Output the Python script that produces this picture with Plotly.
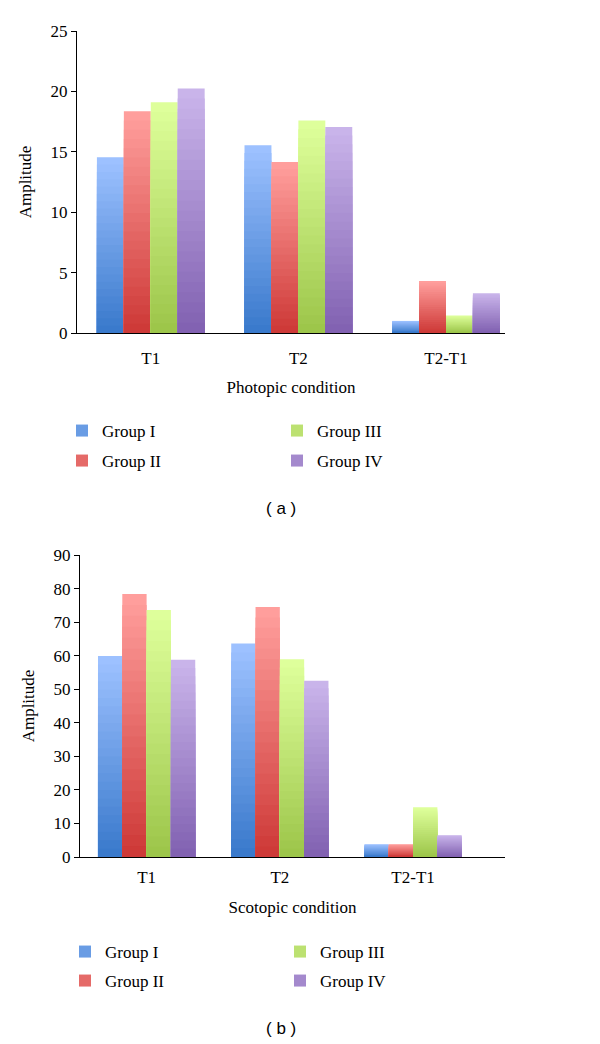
import plotly.graph_objects as go

categories = ["T1", "T2", "T2-T1"]
groups = ["Group I", "Group II", "Group III", "Group IV"]

photopic_group1 = [14.55, 15.55, 1.0]
photopic_group2 = [18.35, 14.15, 4.3]
photopic_group3 = [19.1, 17.6, 1.45]
photopic_group4 = [20.25, 17.05, 3.3]

scotopic_group1 = [59.9, 63.6, 3.8]
scotopic_group2 = [78.4, 74.5, 3.8]
scotopic_group3 = [73.6, 58.9, 14.8]
scotopic_group4 = [58.8, 52.5, 6.5]

photopic = [photopic_group1, photopic_group2, photopic_group3, photopic_group4]
scotopic = [scotopic_group1, scotopic_group2, scotopic_group3, scotopic_group4]

# gradient colours (top -> bottom of each bar)
top_colors = [(157, 193, 255), (255, 158, 156), (222, 255, 155), (201, 180, 234)]
bottom_colors = [(58, 122, 204), (206, 58, 56), (157, 198, 74), (130, 98, 178)]
legend_rows = [0, 1, 0, 1]  # Group I & III on first row, II & IV on second

SERIF = "Liberation Serif, Times New Roman, serif"
N_STEPS = 24
OFF = 8  # page body margin


def mix(c1, c2, t):
    return "rgb(%d,%d,%d)" % tuple(round(a + (b - a) * t) for a, b in zip(c1, c2))


fig = go.Figure()


def add_panel(values_list, xa, ya, legend_names):
    for i, g in enumerate(groups):
        vals = values_list[i]
        for k in range(N_STEPS):
            frac = (N_STEPS - k) / N_STEPS
            t = k / (N_STEPS - 1)
            show = (k == N_STEPS // 2)
            fig.add_trace(go.Bar(
                x=categories, y=[v * frac for v in vals], name=g,
                marker=dict(color=mix(top_colors[i], bottom_colors[i], t), line=dict(width=0)),
                xaxis=xa, yaxis=ya, offsetgroup=str(i),
                showlegend=show, legend=legend_names[legend_rows[i]],
                hoverinfo="skip" if not show else None,
            ))


add_panel(photopic, "x", "y", ["legend", "legend2"])
add_panel(scotopic, "x2", "y2", ["legend3", "legend4"])

axis_common = dict(showline=True, linecolor="black", linewidth=1, showgrid=False, zeroline=False,
                   tickfont=dict(family=SERIF, size=17, color="black"))
title_font = dict(family=SERIF, size=17, color="black")

W, H = 600, 1044


def px_x(p):
    return (p - OFF) / W


def px_y(p):
    return 1 - (p - OFF) / H


def leg(xpx, ypx):
    return dict(orientation="h", x=xpx / W, y=1 - ypx / H, xanchor="left", yanchor="middle",
                entrywidth=170, entrywidthmode="pixels", traceorder="normal",
                font=dict(family=SERIF, size=17, color="black"), bgcolor="rgba(0,0,0,0)")


fig.update_layout(
    width=W, height=H,
    margin=dict(l=0, r=0, t=0, b=0, autoexpand=False),
    paper_bgcolor="white", plot_bgcolor="white",
    barmode="group", bargap=0.27, bargroupgap=0,
    showlegend=True,
    xaxis=dict(domain=[px_x(77), px_x(505)], anchor="y", range=[-0.5, 2.4], ticks="",
               ticklabelstandoff=10,
               title=dict(text="Photopic condition", font=title_font, standoff=13),
               **axis_common),
    yaxis=dict(domain=[px_y(333), px_y(31)], anchor="x", range=[0, 25], dtick=5, ticks="outside",
               ticklen=5, tickcolor="black",
               title=dict(text="Amplitude", font=title_font, standoff=14),
               **axis_common),
    xaxis2=dict(domain=[px_x(80), px_x(505)], anchor="y2", range=[-0.5, 2.69], ticks="",
                ticklabelstandoff=5,
                title=dict(text="Scotopic condition", font=title_font, standoff=14),
                **axis_common),
    yaxis2=dict(domain=[px_y(857), px_y(555)], anchor="x2", range=[0, 90], dtick=10, ticks="outside",
                ticklen=5, tickcolor="black",
                title=dict(text="Amplitude", font=title_font, standoff=14),
                **axis_common),
    legend=leg(54, 423),
    legend2=leg(54, 453),
    legend3=leg(57, 944),
    legend4=leg(57, 973),
    annotations=[
        dict(text="( a )", x=px_x(281), y=px_y(508), xref="paper", yref="paper", showarrow=False,
             xanchor="center", yanchor="middle",
             font=dict(family="Liberation Sans, Arial, sans-serif", size=17, color="black")),
        dict(text="( b )", x=px_x(281), y=px_y(1028), xref="paper", yref="paper", showarrow=False,
             xanchor="center", yanchor="middle",
             font=dict(family="Liberation Sans, Arial, sans-serif", size=17, color="black")),
    ],
)

fig.write_html("out.html")
